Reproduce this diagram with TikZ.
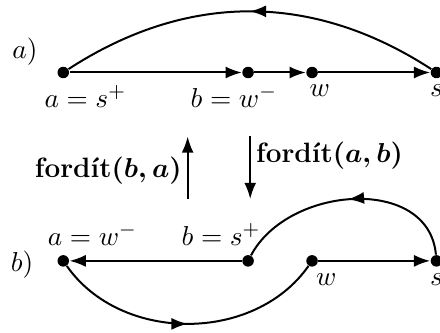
\documentclass[tikz,border=0pt]{standalone}
\usepackage{amsmath}
\usepackage{amssymb}
\usetikzlibrary{arrows.meta, positioning, decorations.markings}

\begin{document}
\begin{tikzpicture}[
  every node/.style={font=\fontsize{11.2pt}{13.5pt}\selectfont},
  vertex/.style={circle, fill=black, inner sep=0pt, minimum size=4.6pt},
  edge/.style={line width=0.8pt, -{Latex[length=6.5pt, width=4.8pt]}},
  arc/.style={line width=0.8pt, decoration={markings, mark=at position 0.5 with {\arrow{Latex[length=6.5pt, width=4.8pt]}}}, postaction={decorate}},
  opname/.style={inner sep=2pt},
]
\useasboundingbox (0,0) rectangle (6.19,4.68);
% a) upper row
\node at (0.35, 3.95) (lbla) {$a)$};
\node[vertex, label={[xshift=0.31cm, yshift=1pt]below:$a=s^+$}] (a1) at (0.89, 3.66) {};
\node[vertex, label={[xshift=-0.20cm, yshift=1pt]below:$b=w^-$}] (b1) at (3.49, 3.66) {};
\node[vertex, label={[xshift=0.11cm, yshift=1pt]below:$w$}] (w1) at (4.39, 3.66) {};
\node[vertex, label={[yshift=1pt]below:$s$}] (s1) at (6.14, 3.66) {};
\draw[edge] (a1) -- (b1);
\draw[edge] (b1) -- (w1);
\draw[edge] (w1) -- (s1);
\draw[arc] (s1) to[bend right=33] (a1);
% the two operations
\coordinate (up1) at (2.64, 1.88);
\coordinate (up2) at (2.64, 2.76);
\coordinate (dn1) at (3.52, 2.76);
\coordinate (dn2) at (3.52, 1.88);
\draw[edge] (up1) -- (up2) node[pos=0.45, left, opname] {\textbf{fordít}{\boldmath$(b,a)$}};
\draw[edge] (dn1) -- (dn2) node[pos=0.3, right, opname] {\textbf{fordít}{\boldmath$(a,b)$}};
% b) lower row
\node at (0.31, 0.96) (lblb) {$b)$};
\node[vertex, label={[xshift=0.41cm]above:$a=w^-$}] (a2) at (0.89, 1.01) {};
\node[vertex, label={[xshift=-0.38cm]above:$b=s^+$}] (b2) at (3.49, 1.01) {};
\node[vertex, label={[xshift=0.20cm, yshift=1pt]below:$w$}] (w2) at (4.39, 1.01) {};
\node[vertex, label={[yshift=1pt]below:$s$}] (s2) at (6.14, 1.01) {};
\draw[edge] (b2) -- (a2);
\draw[edge] (w2) -- (s2);
\draw[arc] (s2) to[out=95, in=62, looseness=1.1] (b2);
\draw[arc] (a2) to[bend right=55] (w2);
\end{tikzpicture}
\end{document}
